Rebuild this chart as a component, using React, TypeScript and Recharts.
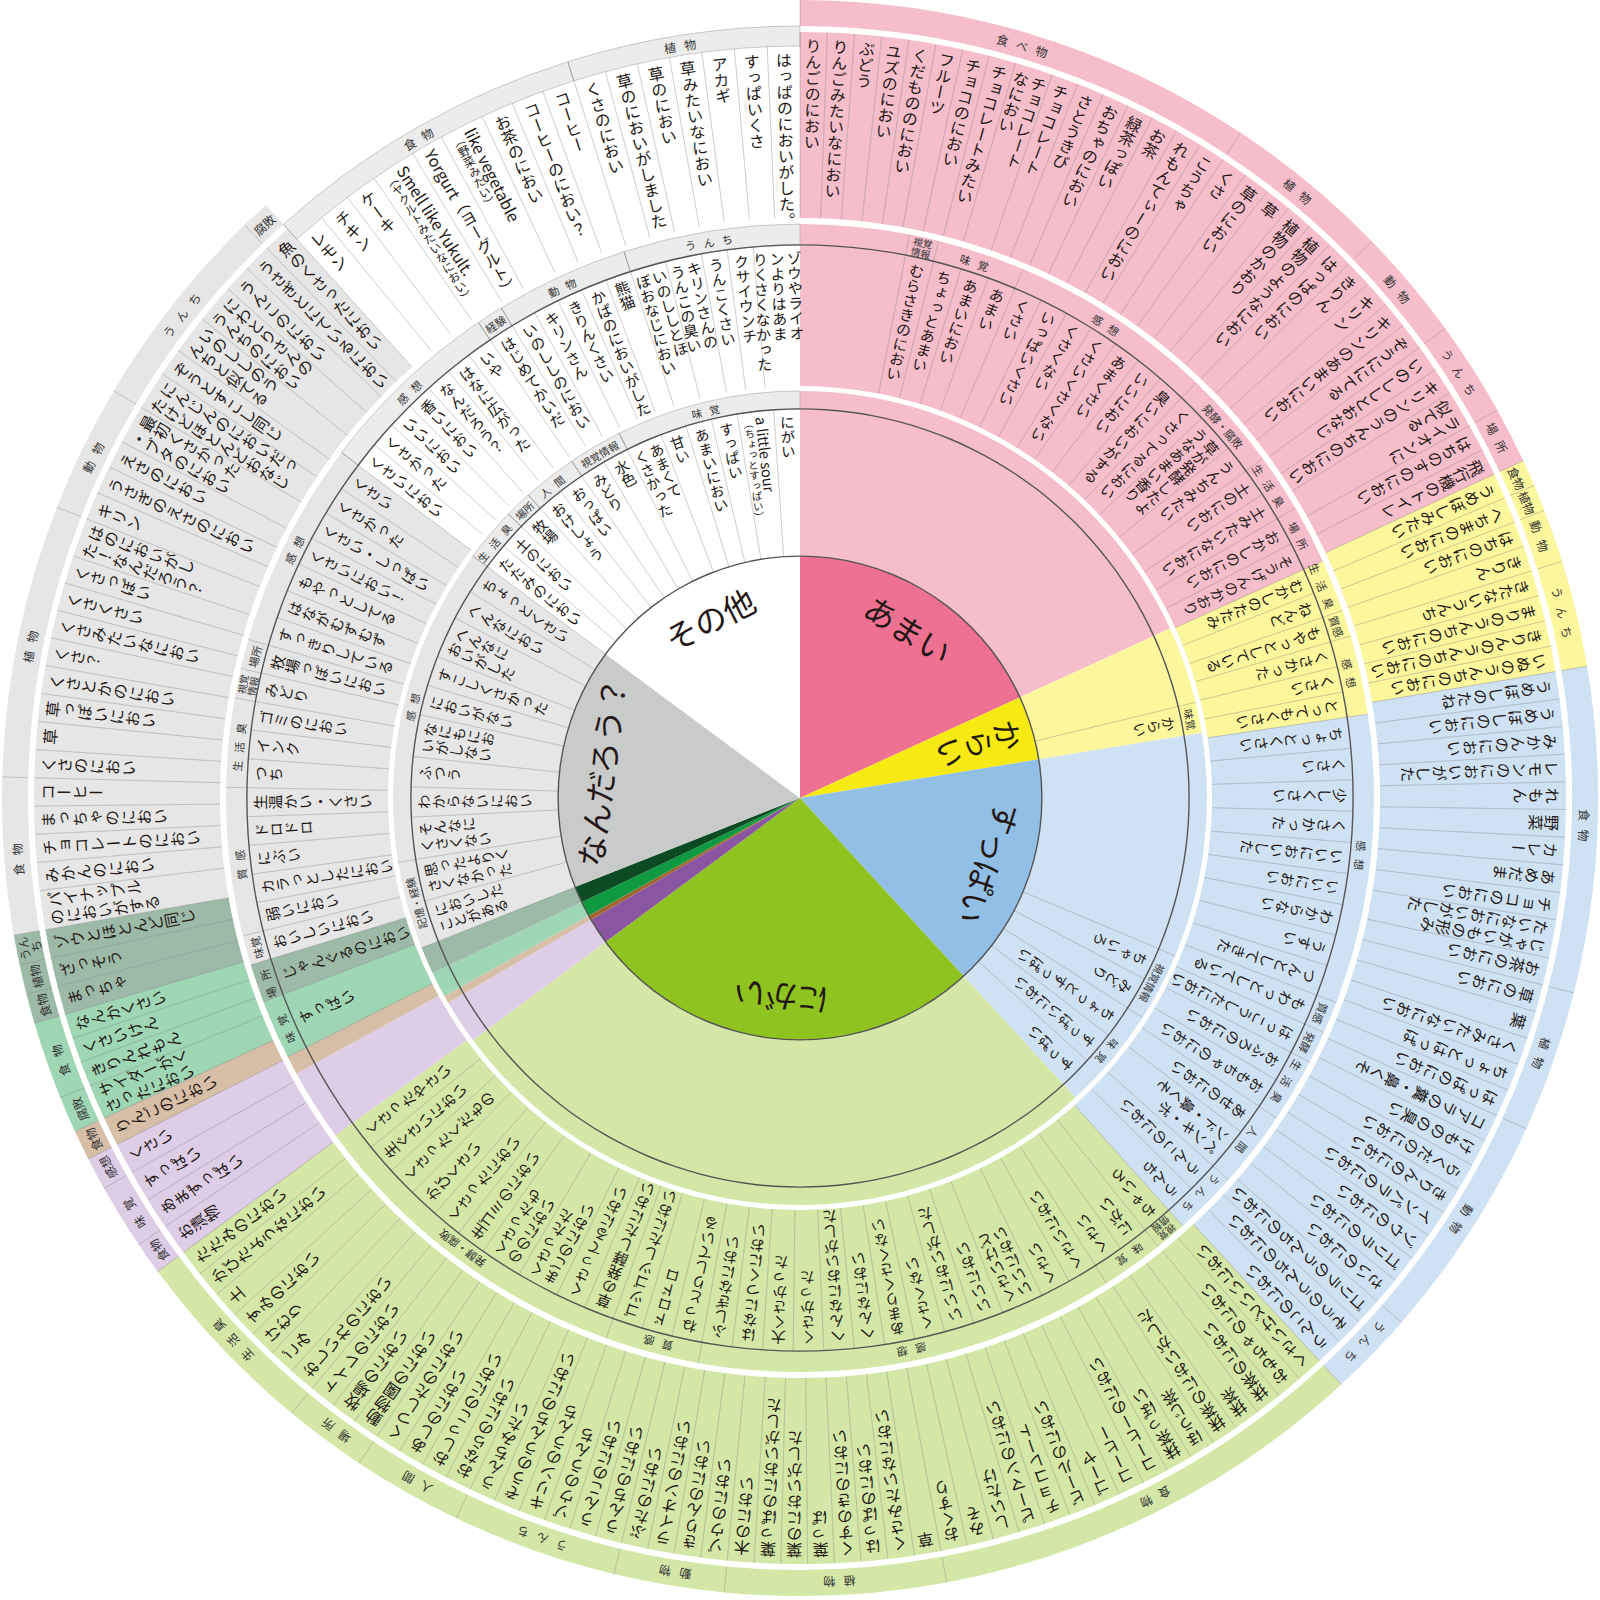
import React from 'react';
import { PieChart, Pie, Cell } from 'recharts';

const CX = 800;
const CY = 798;
const FONT = '"Noto Sans CJK JP", "Noto Sans", sans-serif';
const INK = '#231815';
const SEP = 'rgba(70,70,70,0.38)';

const CATEGORIES = ['あまい', 'からい', 'すっぱい', 'にがい', 'むらさき', 'ちゃいろ', 'みどり', 'こいみどり', 'なんだろう？', 'その他'];
const PIE_LABELS = ['あまい', 'からい', 'すっぱい', 'にがい', '', '', '', '', 'なんだろう？', 'その他'];
const PIE_SHARE = [65.4, 15.4, 56.6, 96.1, 6.3, 1.1, 3.6, 3.9, 58.1, 53.5];
const DARK = ['#ee7191', '#f7ea12', '#92bfe6', '#8fc31f', '#8a56a1', '#a1652f', '#0f9a41', '#0b4c22', '#c9caca', '#ffffff'];
const LIGHT = ['#f6bdcb', '#fcf69c', '#cfe2f4', '#d4e7a6', '#ddcde6', '#d7bfa7', '#9fd6b4', '#9dbaa8', '#e6e6e6', '#ffffff'];

// share of each category per ring (degrees) and blank part before the answers
const RING_A_SHARE = PIE_SHARE;
const RING_A_LEAD = [65.4, 11, 32, 96.1, 6.3, 1.1, 3.6, 3.9, 0, 0];
const RING_B_SHARE = [65.6, 16, 56.6, 95.8, 7.3, 1.9, 6, 3.9, 53.9, 53];
const RING_B_LEAD = [11, 0, 0, 0, 7.3, 1.9, 0, 0, 0, 0];
const RING_C_SHARE = [65, 15.5, 56.8, 96.3, 9.5, 2.2, 8.3, 6.5, 57.9, 42];
const RING_C_LEAD = [0, 0, 0, 0, 0, 0, 0, 0, 0, 0];

type Group = [number, string, string[]];

const RING_A: Group[] = [
  [1, '味覚', ['からい']],
  [2, '視覚情報', ['ちゃいろ', 'みどり']],
  [2, '味覚', ['ちょっとすっぱい', 'すっぱいにおい', 'すっぱい']],
  [8, '記憶・経験', ['においしたことがある', '思ったよりくさくなかった']],
  [8, '感想', ['そんなにくさくない', 'わからないにおい', 'ふつう', 'なにもにおいがしない', 'においがない', 'すこしくさかった', 'へんなにおいがした', 'へんなにおい', 'ちょっとくさい']],
  [9, '生活臭', ['たたみのにおい', '土のにおい']],
  [9, '場所', ['牧場']],
  [9, '人間', ['おけしょう', 'おっぱい']],
  [9, '視覚情報', ['みどり', '水色']],
  [9, '味覚', ['あまくてくさかった', '甘い', 'あまいにおい', 'すっぱい', 'a little sour\n（ちょっとすっぱい）', 'にがい']],
];

const RING_B: Group[] = [
  [0, '視覚情報', ['むらさきのにおい']],
  [0, '味覚', ['ちょっとあまい', 'あまいにおい', 'あまい']],
  [0, '感想', ['くさい', 'いっぱいくさい', 'くさくない', 'くさいくさくない', 'あまくさい', 'いいにおい', '臭いにおいがする']],
  [0, '発酵・腐敗', ['くさってるにおい', '草が発酵したようなあまい香り', 'うんちみたい']],
  [0, '生活臭', ['土のにおい', '土みたいなにおい']],
  [0, '場所', ['おかしのにおい', 'そうげんのかおり']],
  [1, '生活臭', ['むかしのたたみ', 'ねんど']],
  [1, '質感', ['もやっとしている']],
  [1, '感想', ['くさかった', 'くさい', 'とってもくさい']],
  [2, '感想', ['ちょっとくさい', 'くさい', '少しくさい', 'くさかった', 'いいにおいした', 'いいにおい', 'わからない', 'うすい', 'つんとしてきた']],
  [2, '質感', ['もわっとしている']],
  [2, '発酵', ['はっこうしたにおい']],
  [2, '生活臭', ['おふろのにおい', 'おもちゃのにおい']],
  [2, '人間', ['あせのにおい', 'ペンキ・ボンド・鼻くそ']],
  [2, 'うんち', ['うんこのにおい', 'うんち']],
  [3, '視覚情報', ['ちゃいろ']],
  [3, '味覚', ['にがい', 'くさい']],
  [3, '感想', ['くさいにおい', 'くさい', 'くさいけどいいにおい', 'いいにおい', 'いいにおいがした', 'くさくない', 'あまりくさくない', 'へんなにおい', 'へんなにおいがした', 'くさかった', '大くさかった', 'はなにつくにおい', 'ふしぎなにおい']],
  [3, '質感', ['ねっとりしている', 'ドロドロ', 'ゴツゴツしたにおい']],
  [3, '発酵・腐敗', ['草の発酵したにおい', 'くさってるにおい', 'くさったたまごのにおい', 'くさったもののにおい', '生ゴミのにおい', 'くさったにおい', 'かびくさい', 'くさったくだもの', '生ぐさいにおい', 'くさったやさい']],
  [6, '味覚', ['すっぱい']],
  [7, '場所', ['じゃんぐるのにおい']],
  [8, '味覚', ['おいしいにおい']],
  [8, '質感', ['弱いにおい', 'カラっとしたにおい', 'にぶい', 'ドロドロ', '生温かい・くさい']],
  [8, '生活臭', ['つち', 'インク', 'ゴミのにおい']],
  [8, '視覚情報', ['みどり']],
  [8, '場所', ['牧場っぽいにおい']],
  [8, '感想', ['すっきりしている', 'はながむずむず', 'もやっとしてる', 'くさいにおい！', 'くさい・しっぱい', 'くさかった', 'くさい']],
  [9, '感想', ['くさいにおい', 'くさかった', 'いいにおい', '香いにおい', 'なんだろう？', 'はなに広がった', 'いや']],
  [9, '経験', ['はじめてかいだ']],
  [9, '動物', ['いのししのにおい', 'キリンさん', 'きりんくさい', 'かばのにおいがした', '熊猫']],
  [9, 'うんち', ['いのししとほぼおなじにおい', 'キリンさんのうんこの臭い', 'うんこくさい', 'クサイウンチ', 'ゾウやライオンよりはあまりくさくなかった']],
];

const RING_C: Group[] = [
  [0, '食べ物', ['りんごのにおい', 'りんごみたいなにおい', 'ぶどう', 'ユズのにおい', 'くだもののにおい', 'フルーツ', 'チョコのにおい', 'チョコレートみたい', 'チョコレート\nなにおい', 'チョコレート', 'さとうきび', 'おちゃのにおい', '緑茶っぽい', 'お茶', 'れもんてぃーのにおい', 'こうちゃ']],
  [0, '植物', ['くさ', '草のにおい', '草', '植物のかおり', '植物のようなにおい', 'はっぱのにおい']],
  [0, '動物', ['きりん', 'キリン', 'キリンのあまいにおい', 'ぞうににてる']],
  [0, 'うんち', ['いのししとおなじ', 'キリンのうんちのにおい', 'ライオンに\n似てる']],
  [0, '場所', ['はちのすのにおい', '飛行機のトイレ']],
  [1, '食物', ['うめぼしみたい']],
  [1, '植物', ['へちまのにおい']],
  [1, '動物', ['はちのにおい', 'きりん']],
  [1, 'うんち', ['きたないうんち', 'まりのうんちのにおい', 'きりんのうんちのにおい', 'いぬのうんちのにおい']],
  [2, '食物', ['うめぼしのたね', 'うめぼしのにおい', 'みかんのにおい', 'レモンのにおいがした', 'れもん', '野菜', 'カレー', 'あめだま', 'チョコのにおい', 'じゃがいもの形みたいなにおいがした', 'お茶のにおい']],
  [2, '植物', ['草のにおい', '葉', 'くさみたいなにおい', 'ちょっとはっぱ', 'はっぱのにおい']],
  [2, '動物', ['コアラの糞・鼻くそ', 'けものの臭い', 'らくだのにおい', 'きりんのにおい', 'インパラのにおい', 'ゾウのにおい', 'ゴリラのにおい', 'さいのにおい']],
  [2, 'うんち', ['ゴリラのうんちのにおい', 'ぞうのうんちのにおい', 'うんこのにおい']],
  [3, '食物', ['くさいけどいいにおい', 'おもちゃのにおい', '抹茶のにおい', '抹茶', '抹茶のにおいがした', 'ほうじ茶', '抹茶っぽい', 'コーヒーのにおい', 'コーヒー', 'ゴーヤ', 'ビールのにおい', 'チョコレート', 'ピーマンのにおい', 'しいたけ', 'みそ', 'おくすり']],
  [3, '植物', ['草', 'くさみたいなにおい', 'はっぱのにおい', 'くすのきのにおい', '葉っぱ', '葉のにおいがした', '葉っぱのにおいがした', '木のにおい']],
  [3, '動物', ['ゾウのにおい', 'きりんのにおい', 'ライオンのにおい', 'ぶたのにおい']],
  [3, 'うんち', ['うんちのにおい', 'うんこのにおい', 'ゾウのうんち', 'キリンのうんち', 'ぞうのうんちのにおい', 'うんちみたい']],
  [3, '人間', ['おならのにおい', 'おしっこのにおい', 'あしのにおい', 'くつしたのにおい']],
  [3, '場所', ['動物園のにおい', '牧場のにおい', 'トイレのにおい']],
  [3, '生活臭', ['おしいれのにおい', 'ごみ', 'けむり', 'すみのにおい', '土', 'かびたようなにおい', 'たたみのにおい']],
  [4, '食物', ['お漬物']],
  [4, '味覚', ['あまずっぱい', 'すっぱい']],
  [4, '感想', ['くさい']],
  [5, '食物', ['りんごのにおい']],
  [6, '腐敗', ['サイダーがくさったにおい']],
  [6, '食物', ['きりんれもん', 'くさいけん', 'なんかくさい']],
  [7, '食物', ['まっちゃ']],
  [7, '植物', ['ざっそう']],
  [7, 'うんち', ['ゾウとほとんど同じ']],
  [8, '食物', ['パイナップルのにおいがする', 'みかんのにおい', 'チョコレートのにおい', 'まっちゃのにおい', 'コーヒー']],
  [8, '植物', ['くさのにおい', '草', '草っぽいにおい', 'くさとかのにおい', 'くさ？', 'くさみたいなにおい', 'くさくさい', 'くさっぽい', 'はのにおいがした！なんだろう？']],
  [8, '動物', ['キリン', 'うさぎのえさのにおい', 'えさのにおい', '最初くさかった・ブタのにおい']],
  [8, 'うんち', ['にんじんのにおいだったけどほとんどおなじ', 'ぞうとすこし同じ', 'いのししのうんちと似てる', 'にわとりさんのうんちのにおい', 'うんこのにおい', 'うさぎとにているにおい']],
  [8, '腐敗', ['魚のくさったにおい']],
  [9, '食物', ['レモン', 'チキン', 'ケーキ', 'Smell like Yukult.\n（ヤクルトみたいなにおい）', 'Yorgurt（ヨーグルト）', 'like vegetable\n（野菜みたい）', 'お茶のにおい', 'コーヒーのにおい？', 'コーヒー']],
  [9, '植物', ['くさのにおい', '草のにおいがしました', '草のにおい', '草みたいなにおい', 'アカギ', 'すっぱいくさ', 'はっぱのにおいがした。']],
];

type Geom = { r0: number; r1: number; b0: number; b1: number; fs: number; bfs: number; maxEm: number; otherTop?: number };
const GA: Geom = { r0: 242, r1: 389, b0: 389, b1: 407, fs: 14.5, bfs: 10.5, maxEm: 8.6 };
const GB: Geom = { r0: 412, r1: 553, b0: 553, b1: 574, fs: 15, bfs: 11, maxEm: 9 };
const GC: Geom = { r0: 580, r1: 766, b0: 772, b1: 798, fs: 16, bfs: 12, maxEm: 11, otherTop: 752 };

const pt = (r: number, deg: number): [number, number] => {
  const a = (deg * Math.PI) / 180;
  return [CX + r * Math.sin(a), CY - r * Math.cos(a)];
};

const charEm = (c: string) => (c.charCodeAt(0) < 0x2000 ? 0.56 : 1);
const NO_START = 'ーっゃゅょぁぃぅぇぉッャュョ、。！？）';

type Col = { t: string; k: number };
function wrapText(s: string, maxEm: number): Col[] {
  const out: Col[] = [];
  s.split('\n').forEach((part) => {
    const k = part.startsWith('（') && s.includes('\n') ? 0.72 : 1;
    const lim = maxEm / k;
    const chars = Array.from(part);
    const total = chars.reduce((a, c) => a + charEm(c), 0);
    const n = Math.max(1, Math.ceil(total / lim - 0.001));
    const target = total / n;
    let cur = '';
    let cw = 0;
    let made = 0;
    chars.forEach((c) => {
      if (cur && made < n - 1 && cw + charEm(c) > target + 0.01 && !NO_START.includes(c)) {
        out.push({ t: cur, k });
        cur = '';
        cw = 0;
        made++;
      }
      cur += c;
      cw += charEm(c);
    });
    out.push({ t: cur, k });
  });
  return out;
}

function buildRing(groups: Group[], share: number[], lead: number[], maxEm: number) {
  const leaves: any[] = [];
  const bands: any[] = [];
  share.forEach((span, c) => {
    const gs = groups.filter((g) => g[0] === c);
    const items = gs.flatMap((g) => g[2]);
    const blank = items.length ? Math.min(lead[c], span) : span;
    if (blank > 0.001) {
      leaves.push({ cat: c, blank: true, value: blank });
      bands.push({ cat: c, blank: true, value: blank });
    }
    if (!items.length) return;
    const rest = span - blank;
    const wOf = (t: string) => 0.6 + 0.4 * wrapText(t, maxEm).length;
    const tw = items.reduce((a, t) => a + wOf(t), 0);
    gs.forEach(([, sub, list]) => {
      let sum = 0;
      list.forEach((t) => {
        const v = (rest * wOf(t)) / tw;
        leaves.push({ cat: c, sub, text: t, value: v });
        sum += v;
      });
      bands.push({ cat: c, sub, value: sum });
    });
  });
  return { leaves, bands };
}

const ringA = buildRing(RING_A, RING_A_SHARE, RING_A_LEAD, GA.maxEm);
const ringB = buildRing(RING_B, RING_B_SHARE, RING_B_LEAD, GB.maxEm);
const ringC = buildRing(RING_C, RING_C_SHARE, RING_C_LEAD, GC.maxEm);
const pieData = PIE_SHARE.map((v, i) => ({ cat: i, name: CATEGORIES[i], value: v }));

function VText({ x, y, angle, cols, fs }: { x: number; y: number; angle: number; cols: Col[]; fs: number }) {
  const widths = cols.map((c) => fs * c.k * 1.12);
  let off = widths.reduce((a, b) => a + b, 0) / 2;
  return (
    <g transform={`translate(${x.toFixed(1)},${y.toFixed(1)}) rotate(${angle.toFixed(2)})`}>
      {cols.map((c, i) => {
        const w = widths[i];
        const cx = off - w / 2;
        off -= w;
        return (
          <text key={i} x={cx.toFixed(1)} y={0} fontSize={fs * c.k} fill={INK} fontFamily={FONT} style={{ writingMode: 'vertical-rl' }}>
            {c.t}
          </text>
        );
      })}
    </g>
  );
}

const leafLabel = (g: Geom) => (p: any) => {
  const d = p.payload || {};
  if (d.blank || !d.text) return null;
  const s = 90 - p.startAngle;
  const e = 90 - p.endAngle;
  const mid = (s + e) / 2;
  const top = g.otherTop && d.cat === 9 ? g.otherTop : g.r1;
  const [ax, ay] = pt(g.r0, s);
  const [bx, by] = pt(top, s);
  const [tx, ty] = pt(top - 6, mid);
  return (
    <g>
      <line x1={ax} y1={ay} x2={bx} y2={by} stroke={SEP} strokeWidth={0.7} />
      <VText x={tx} y={ty} angle={mid} cols={wrapText(d.text, g.maxEm)} fs={g.fs} />
    </g>
  );
};

const bandLabel = (b0: number, b1: number, fs: number, only?: number, skip?: number) => (p: any) => {
  const d = p.payload || {};
  if (d.blank || !d.sub) return null;
  if (only !== undefined && d.cat !== only) return null;
  if (skip !== undefined && d.cat === skip) return null;
  const s = 90 - p.startAngle;
  const e = 90 - p.endAngle;
  const mid = (s + e) / 2;
  const rm = (b0 + b1) / 2;
  const arc = (Math.abs(e - s) * Math.PI * rm) / 180;
  const chars = Array.from(d.sub);
  const [ax, ay] = pt(b0, s);
  const [bx, by] = pt(b1, s);
  const [tx, ty] = pt(rm, mid);
  const spacing = chars.length <= 3 ? fs * 0.7 : 0;
  let body: React.ReactNode;
  if (chars.length * fs + (chars.length - 1) * spacing <= arc - 4) {
    body = (
      <text textAnchor="middle" dominantBaseline="central" fontSize={fs} fill="#333" fontFamily={FONT} letterSpacing={spacing}>
        {d.sub}
      </text>
    );
  } else if (chars.length * fs <= arc - 2) {
    body = (
      <text textAnchor="middle" dominantBaseline="central" fontSize={fs} fill="#333" fontFamily={FONT}>
        {d.sub}
      </text>
    );
  } else {
    const h = Math.ceil(chars.length / 2);
    const f2 = Math.min(fs, (b1 - b0) / 2.15);
    body = (
      <g>
        <text y={-f2 * 0.52} textAnchor="middle" dominantBaseline="central" fontSize={f2} fill="#333" fontFamily={FONT}>
          {chars.slice(0, h).join('')}
        </text>
        <text y={f2 * 0.52} textAnchor="middle" dominantBaseline="central" fontSize={f2} fill="#333" fontFamily={FONT}>
          {chars.slice(h).join('')}
        </text>
      </g>
    );
  }
  return (
    <g>
      <line x1={ax} y1={ay} x2={bx} y2={by} stroke={SEP} strokeWidth={0.7} />
      <g transform={`translate(${tx.toFixed(1)},${ty.toFixed(1)}) rotate(${mid.toFixed(2)})`}>{body}</g>
    </g>
  );
};

const pieLabel = (p: any) => {
  const d = p.payload || {};
  const label = PIE_LABELS[d.cat];
  if (!label) return null;
  const s = 90 - p.startAngle;
  const e = 90 - p.endAngle;
  const mid = (s + e) / 2;
  if (Math.abs(e - s) < 20) {
    const [x, y] = pt(232, mid);
    return <VText x={x} y={y} angle={mid} cols={[{ t: label, k: 1 }]} fs={30} />;
  }
  const [x, y] = pt(201, mid);
  return (
    <text transform={`translate(${x.toFixed(1)},${y.toFixed(1)}) rotate(${mid.toFixed(2)})`} textAnchor="middle" dominantBaseline="central" fontSize={32} fill={INK} fontFamily={FONT}>
      {label}
    </text>
  );
};

const bandFill = (cat: number) => (cat === 9 ? '#ececec' : LIGHT[cat]);

function LinePie({ r, color }: { r: number; color: string }) {
  return null;
}

export default function App() {
  const ring = [{ value: 1 }];
  const common = { dataKey: 'value', cx: CX, cy: CY, startAngle: 90, endAngle: -270, stroke: 'none', isAnimationActive: false, labelLine: false } as const;
  return (
    <div style={{ position: 'absolute', left: 0, top: 0, width: 1600, height: 1600, background: '#fff' }}>
      <PieChart width={1600} height={1600} margin={{ top: 0, right: 0, bottom: 0, left: 0 }}>
        {/* ring A */}
        <Pie {...common} data={ringA.leaves} innerRadius={GA.r0} outerRadius={GA.r1} label={leafLabel(GA)}>
          {ringA.leaves.map((d, i) => (
            <Cell key={i} fill={LIGHT[d.cat]} />
          ))}
        </Pie>
        <Pie {...common} data={ringA.bands} innerRadius={GA.b0} outerRadius={GA.b1} label={bandLabel(GA.b0, GA.b1, GA.bfs)}>
          {ringA.bands.map((d, i) => (
            <Cell key={i} fill={bandFill(d.cat)} stroke={d.cat === 9 ? '#aaa' : 'none'} strokeWidth={0.6} />
          ))}
        </Pie>
        {/* ring B */}
        <Pie {...common} data={ringB.leaves} innerRadius={GB.r0} outerRadius={GB.r1} label={leafLabel(GB)}>
          {ringB.leaves.map((d, i) => (
            <Cell key={i} fill={LIGHT[d.cat]} />
          ))}
        </Pie>
        <Pie {...common} data={ringB.bands} innerRadius={GB.b0} outerRadius={GB.b1} label={bandLabel(GB.b0, GB.b1, GB.bfs)}>
          {ringB.bands.map((d, i) => (
            <Cell key={i} fill={bandFill(d.cat)} stroke={d.cat === 9 ? '#aaa' : 'none'} strokeWidth={0.6} />
          ))}
        </Pie>
        {/* ring C */}
        <Pie {...common} data={ringC.leaves} innerRadius={GC.r0} outerRadius={GC.r1} label={leafLabel(GC)}>
          {ringC.leaves.map((d, i) => (
            <Cell key={i} fill={LIGHT[d.cat]} />
          ))}
        </Pie>
        <Pie {...common} data={ringC.bands} innerRadius={GC.b0} outerRadius={GC.b1} label={bandLabel(GC.b0, GC.b1, GC.bfs, undefined, 9)}>
          {ringC.bands.map((d, i) => (
            <Cell key={i} fill={d.cat === 9 ? 'none' : bandFill(d.cat)} />
          ))}
        </Pie>
        <Pie {...common} data={ringC.bands} innerRadius={752} outerRadius={772} label={bandLabel(752, 772, GC.bfs, 9)}>
          {ringC.bands.map((d, i) => (
            <Cell key={i} fill={d.cat === 9 ? '#ececec' : 'none'} stroke={d.cat === 9 ? '#aaa' : 'none'} strokeWidth={0.6} />
          ))}
        </Pie>
        {/* thin dark rings */}
        <Pie {...common} data={ring} innerRadius={388.4} outerRadius={389.8} fill="#555" />
        <Pie {...common} data={ring} innerRadius={552.4} outerRadius={553.8} fill="#555" />
        {/* center pie */}
        <Pie {...common} data={pieData} innerRadius={0} outerRadius={242} label={pieLabel}>
          {pieData.map((d, i) => (
            <Cell key={i} fill={DARK[d.cat]} />
          ))}
        </Pie>
        <Pie {...common} data={ring} innerRadius={241.2} outerRadius={242.6} fill="#555" />
      </PieChart>
    </div>
  );
}
